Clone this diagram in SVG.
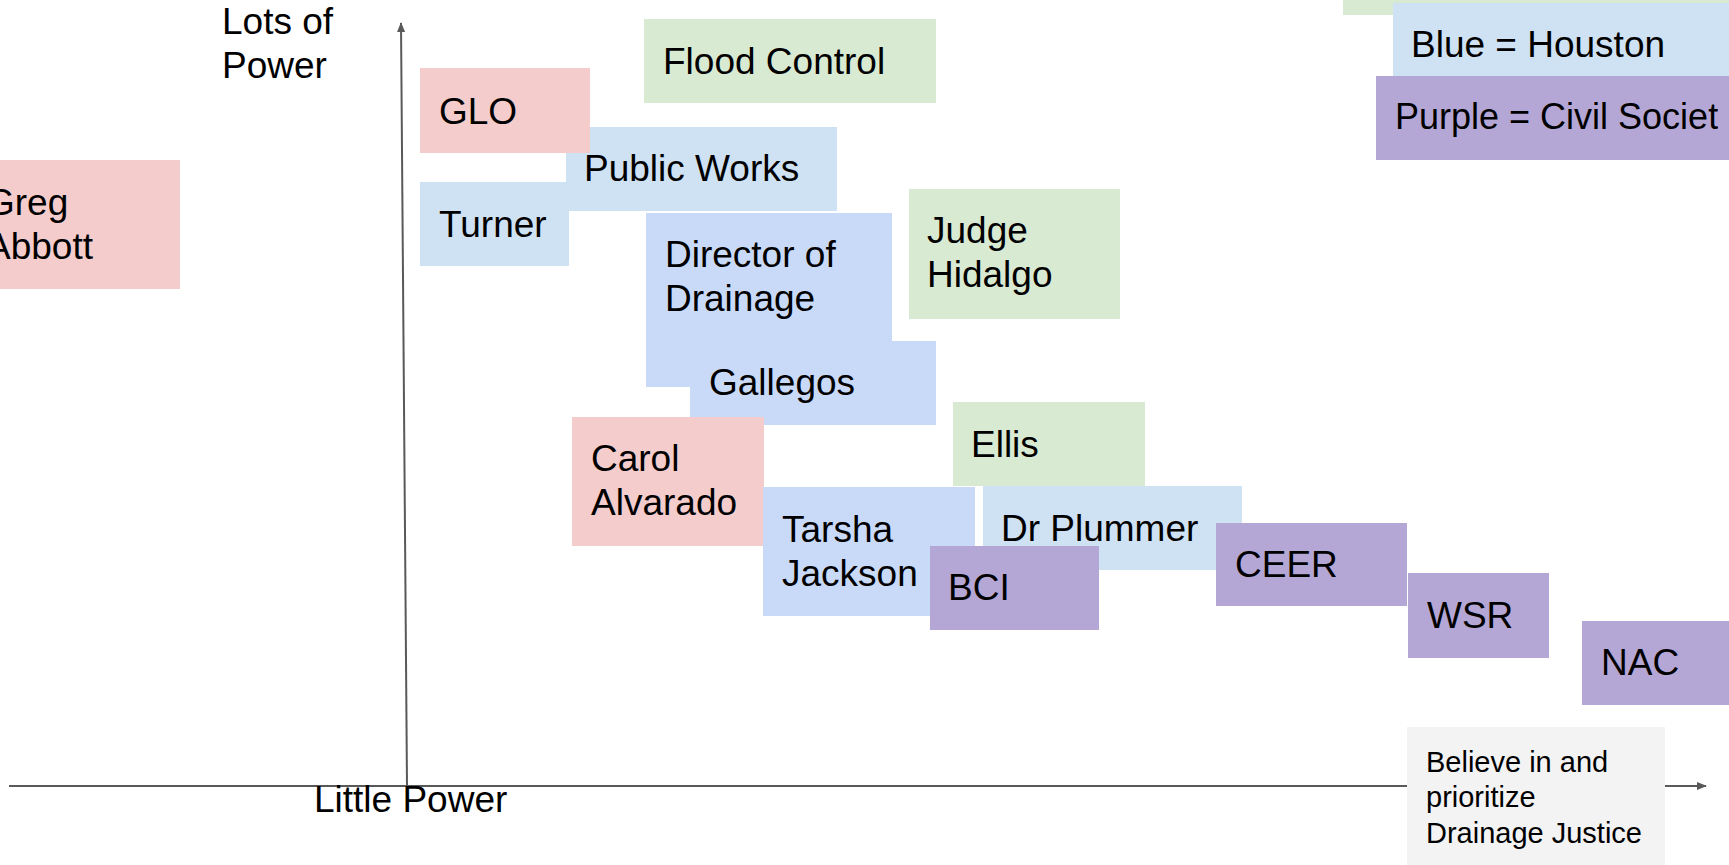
<svg xmlns="http://www.w3.org/2000/svg" width="1729" height="865" viewBox="0 0 1729 865">
<defs>
<style>
text{font-family:"Liberation Sans",Arial,sans-serif;font-size:37px;fill:#000}
.small{font-size:29px}
.legend{font-size:36px}
.pink{fill:#f4cccc}.green{fill:#d9ead3}.lblue{fill:#cfe2f3}.blue{fill:#c9daf8}.purple{fill:#b4a7d6}.gray{fill:#f3f3f3}
.axis{stroke:#595959;stroke-width:2;fill:none}
</style>
<marker id="arr" viewBox="0 0 10 10" refX="9" refY="5" markerWidth="10" markerHeight="10" markerUnits="userSpaceOnUse" orient="auto">
<path d="M0,1 L10,5 L0,9 Z" fill="#595959"/>
</marker>
<clipPath id="purpleClip"><rect x="1376" y="76" width="342" height="84"/></clipPath>
<clipPath id="gregClip"><rect x="0" y="160" width="180" height="129"/></clipPath>
</defs>
<rect width="1729" height="865" fill="#fff"/>
<g id="connectors">
<line class="axis" x1="9" y1="786" x2="1706" y2="786" marker-end="url(#arr)"/>
<line class="axis" x1="407" y1="786" x2="401" y2="23" marker-end="url(#arr)"/>
</g>
<g id="legend-green"><rect class="green" x="1343" y="0" width="386" height="15"/></g>
<g id="legend-blue"><rect class="lblue" x="1393" y="3" width="336" height="73"/><text x="1411" y="57">Blue = Houston</text></g>
<g id="legend-purple"><rect class="purple" x="1376" y="76" width="353" height="84"/><text class="legend" x="1395" y="129" clip-path="url(#purpleClip)">Purple = Civil Society</text></g>
<g id="greg-abbott"><rect class="pink" x="0" y="160" width="180" height="129"/><g clip-path="url(#gregClip)"><text x="-14" y="215">Greg</text><text x="-14" y="259">Abbott</text></g></g>
<g id="lots-of-power"><text x="222" y="34">Lots of</text><text x="222" y="78">Power</text></g>
<g id="flood-control"><rect class="green" x="644" y="19" width="292" height="84"/><text x="663" y="74">Flood Control</text></g>
<g id="public-works"><rect class="lblue" x="566" y="127" width="271" height="84"/><text x="584" y="181">Public Works</text></g>
<g id="glo"><rect class="pink" x="420" y="68" width="170" height="85"/><text x="439" y="124">GLO</text></g>
<g id="turner"><rect class="lblue" x="420" y="182" width="149" height="84"/><text x="439" y="237">Turner</text></g>
<g id="director-of-drainage"><rect class="blue" x="646" y="213" width="246" height="174"/><text x="665" y="267">Director of</text><text x="665" y="311">Drainage</text></g>
<g id="gallegos"><rect class="blue" x="690" y="341" width="246" height="84"/><text x="709" y="395">Gallegos</text></g>
<g id="judge-hidalgo"><rect class="green" x="909" y="189" width="211" height="130"/><text x="927" y="243">Judge</text><text x="927" y="287">Hidalgo</text></g>
<g id="carol-alvarado"><rect class="pink" x="572" y="417" width="192" height="129"/><text x="591" y="471">Carol</text><text x="591" y="515">Alvarado</text></g>
<g id="ellis"><rect class="green" x="953" y="402" width="192" height="84"/><text x="971" y="457">Ellis</text></g>
<g id="tarsha-jackson"><rect class="blue" x="763" y="487" width="212" height="129"/><text x="782" y="542">Tarsha</text><text x="782" y="586">Jackson</text></g>
<g id="dr-plummer"><rect class="lblue" x="983" y="486" width="259" height="84"/><text x="1001" y="541">Dr Plummer</text></g>
<g id="bci"><rect class="purple" x="930" y="546" width="169" height="84"/><text x="948" y="600">BCI</text></g>
<g id="ceer"><rect class="purple" x="1216" y="523" width="191" height="83"/><text x="1235" y="577">CEER</text></g>
<g id="wsr"><rect class="purple" x="1408" y="573" width="141" height="85"/><text x="1427" y="628">WSR</text></g>
<g id="nac"><rect class="purple" x="1582" y="621" width="147" height="84"/><text x="1601" y="675">NAC</text></g>
<g id="believe"><rect class="gray" x="1407" y="727" width="258" height="138"/><text class="small" x="1426" y="772">Believe in and</text><text class="small" x="1426" y="807">prioritize</text><text class="small" x="1426" y="843">Drainage Justice</text></g>
<g id="little-power"><text x="314" y="812">Little Power</text></g>
</svg>
